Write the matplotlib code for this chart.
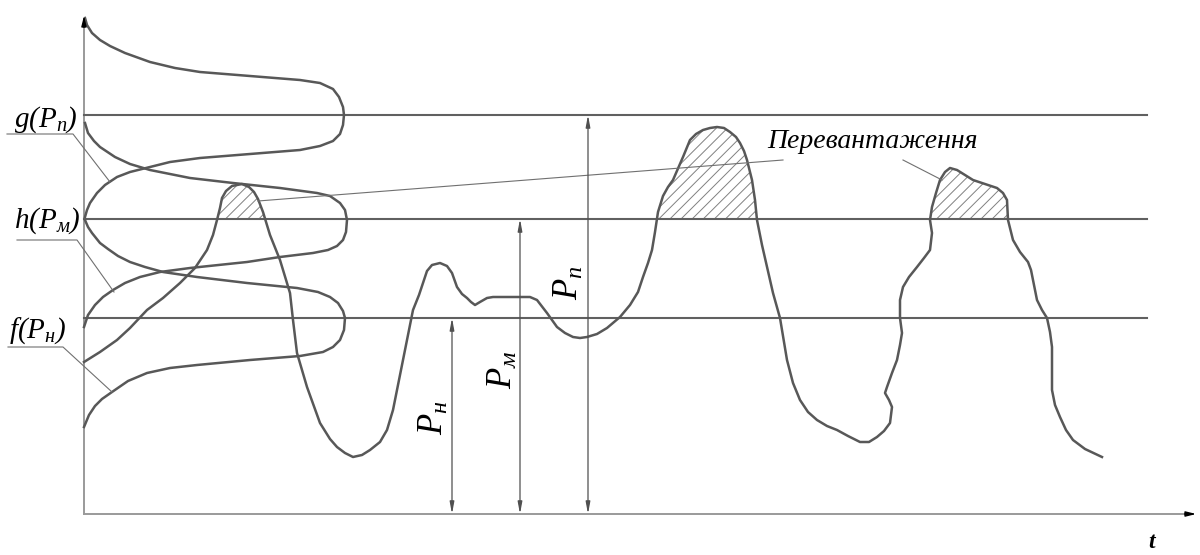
import numpy as np
import matplotlib.pyplot as plt

plt.rcParams['mathtext.fontset'] = 'custom'
plt.rcParams['mathtext.it'] = 'Liberation Serif:italic'
plt.rcParams['mathtext.rm'] = 'Liberation Serif:italic'
plt.rcParams['hatch.linewidth'] = 0.7

# load curve P(t) (pixel units, y down)
load_x = [84, 100, 117, 130, 147, 163, 180, 195, 207, 213, 217, 220, 222, 226, 232, 242, 249,
          254, 258, 263, 270, 280, 290, 293, 297, 307, 320, 330, 337, 345, 353, 362, 370, 380,
          387, 393, 397, 407, 413, 419, 423, 427, 432, 440, 447, 452, 457, 462, 467, 471, 475,
          480, 487, 493, 530, 537, 547, 557, 565, 573, 580, 587, 597, 607, 620, 630, 638, 643,
          648, 652, 655, 658, 663, 668, 673, 683, 690, 696, 703, 710, 717, 724, 730, 736, 740,
          744, 747, 752, 755, 757, 762, 767, 773, 780, 787, 793, 800, 808, 817, 827, 837, 848,
          860, 869, 877, 884, 890, 892, 889, 885, 887, 892, 897, 900, 902, 900, 900, 903, 909,
          917, 924, 930, 932, 930, 932, 936, 940, 945, 950, 957, 965, 973, 985, 997, 1003, 1007,
          1008, 1013, 1020, 1028, 1031, 1033, 1035, 1037, 1042, 1047, 1050, 1052, 1052, 1055,
          1060, 1066, 1073, 1085, 1102]
load_y = [362, 352, 340, 328, 310, 298, 283, 268, 250, 235, 220, 208, 198, 191, 186, 184, 187,
          192, 199, 212, 235, 260, 293, 320, 353, 387, 423, 439, 447, 453, 457, 455, 450, 442,
          430, 410, 390, 340, 310, 295, 283, 271, 265, 263, 266, 273, 287, 294, 298, 302, 305,
          302, 298, 297, 297, 300, 313, 327, 333, 337, 338, 337, 334, 328, 317, 305, 292, 277,
          263, 250, 232, 212, 196, 187, 180, 157, 140, 134, 130, 128, 127, 128, 132, 137, 143,
          151, 160, 180, 200, 220, 245, 267, 293, 318, 360, 383, 400, 412, 420, 426, 430, 436,
          442, 442, 437, 431, 423, 407, 400, 393, 387, 373, 360, 345, 333, 318, 300, 287, 277,
          267, 258, 250, 233, 220, 207, 193, 180, 172, 168, 170, 175, 180, 184, 188, 193, 200,
          220, 240, 252, 262, 270, 280, 290, 300, 310, 318, 332, 347, 390, 405,
          417, 430, 440, 449, 457]

# distribution curves g(Pп), h(Pм), f(Pн)
g_x = [85, 87, 92, 100, 110, 125, 150, 175, 200, 250, 300, 320, 333, 339, 343, 344, 343, 340,
       333, 320, 300, 250, 200, 170, 150, 130, 117, 105, 97, 90, 87, 85]
g_y = [18, 25, 33, 40, 46, 53, 62, 68, 72, 76, 80, 83, 89, 97, 107, 115, 125, 134,
       141, 146, 150, 154, 158, 162, 167, 172, 177, 185, 193, 203, 210, 217]
h_x = [85, 88, 94, 100, 115, 130, 150, 190, 233, 280, 317, 330, 340, 345, 347, 346, 343, 337,
       328, 313, 280, 247, 190, 160, 140, 125, 113, 103, 95, 88, 84]
h_y = [123, 133, 141, 147, 157, 164, 170, 178, 183, 188, 193, 196, 203, 210, 220, 232, 240, 246,
       250, 253, 257, 262, 268, 272, 277, 283, 290, 297, 305, 315, 327]
f_x = [85, 88, 92, 100, 108, 118, 130, 145, 163, 197, 247, 297, 318, 330, 338, 343, 345, 344,
       340, 333, 323, 300, 250, 197, 170, 147, 128, 112, 102, 95, 89, 84]
f_y = [220, 227, 233, 243, 249, 256, 262, 267, 272, 277, 283, 288, 292, 297, 303, 311, 318, 330,
       340, 347, 352, 356, 360, 365, 368, 373, 381, 392, 399, 406, 415, 427]

# levels
level_n = 318
level_m = 219
level_p = 115
x_axis = 514
y_axis = 84

dim_x = [452, 520, 588]
dim_top = [level_n, level_m, level_p]
dim_labels = [r'$P_{н}$', r'$P_{м}$', r'$P_{п}$']
dim_label_x = [433, 502, 568]
dim_label_y = [418, 370, 283]

side_labels = [r'$g(P_{п})$', r'$h(P_{м})$', r'$f(P_{н})$']
side_label_xy = [(46, 120), (47, 221), (38, 331)]
side_leaders = [[(7, 134), (73, 134), (110, 182)],
                [(17, 240), (77, 240), (114, 292)],
                [(8, 347), (63, 347), (112, 392)]]

curve_col = '#585858'
line_col = '#606060'
axis_col = '#9a9a9a'

fig = plt.figure(figsize=(12, 5.55), dpi=100)
ax = fig.add_axes([0, 0, 1, 1])
ax.set_xlim(0, 1200)
ax.set_ylim(555, 0)
ax.axis('off')

# axes with arrows
ax.plot([y_axis, y_axis], [x_axis, 22], color=axis_col, lw=1.4)
ax.plot([y_axis, 1190], [x_axis, x_axis], color=axis_col, lw=1.4)
ax.annotate('', xy=(y_axis, 13), xytext=(y_axis, 30),
            arrowprops=dict(arrowstyle='-|>,head_length=0.6,head_width=0.15', color='black', lw=1))
ax.annotate('', xy=(1199, x_axis), xytext=(1182, x_axis),
            arrowprops=dict(arrowstyle='-|>,head_length=0.6,head_width=0.15', color='black', lw=1))
ax.text(1152, 542, 't', fontsize=17, fontstyle='italic', fontweight='bold',
        family='Liberation Serif', ha='center', va='center')

# horizontal levels
for lv in [level_p, level_m, level_n]:
    ax.plot([y_axis, 1147], [lv, lv], color=line_col, lw=1.5)

# overload hatching
lx = np.array(load_x, dtype=float)
ly = np.array(load_y, dtype=float)
ax.fill_between(lx, ly, level_m, where=ly <= level_m, interpolate=True,
                facecolor='none', edgecolor='#808080', hatch='///', linewidth=0)

for cx, cy in [(g_x, g_y), (h_x, h_y), (f_x, f_y), (load_x, load_y)]:
    ax.plot(cx, cy, color=curve_col, lw=1.8, solid_joinstyle='round')

# dimension arrows
for dx, top, lab, tx, ty in zip(dim_x, dim_top, dim_labels, dim_label_x, dim_label_y):
    ax.annotate('', xy=(dx, top), xytext=(dx, x_axis),
                arrowprops=dict(arrowstyle='<|-|>,head_length=0.7,head_width=0.13',
                                color='#505050', lw=0.9, shrinkA=0, shrinkB=0))
    ax.text(tx, ty, lab, fontsize=25, rotation=90, ha='center', va='center')

# side labels
for lab, (tx, ty), pts in zip(side_labels, side_label_xy, side_leaders):
    ax.text(tx, ty, lab, fontsize=21, ha='center', va='center')
    px, py = zip(*pts)
    ax.plot(px, py, color='#707070', lw=0.8)

# overload label and leaders
ax.text(872, 142, 'Перевантаження', fontsize=20, fontstyle='italic',
        family='Liberation Serif', ha='center', va='center')
ax.plot([783, 258], [160, 201], color='#707070', lw=0.8)
ax.plot([903, 942], [160, 180], color='#707070', lw=0.8)

fig.savefig('out.png', dpi=100)
